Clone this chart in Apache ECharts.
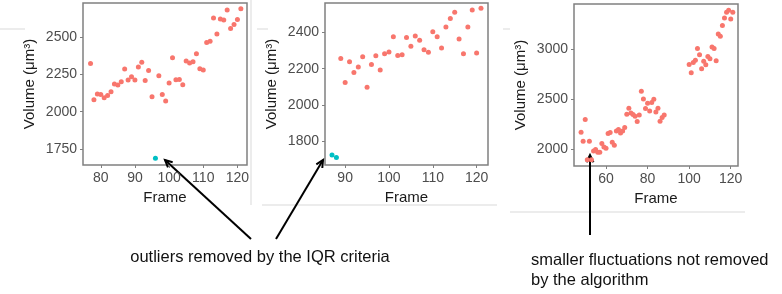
<!DOCTYPE html>
<html>
<head>
<meta charset="utf-8">
<script src="https://cdn.jsdelivr.net/npm/echarts@6/dist/echarts.min.js"></script>
<style>
html, body { margin: 0; padding: 0; background: #fff; }
#main { width: 782px; height: 294px; }
</style>
</head>
<body>
<div id="main"></div>
<script>
// 第一幅图 数据
var frames1 = [77, 78, 79, 80, 81, 82, 83, 84, 85, 86, 87, 88, 89, 90, 91, 92, 93, 94, 95,
	97, 98, 99, 100, 101, 102, 103, 104, 105, 106, 107, 108, 109, 110, 111, 112, 113, 114, 115, 116, 117, 118, 119, 120, 121];
var volume1 = [2323, 2080, 2118, 2116, 2093, 2109, 2133, 2185, 2178, 2200, 2286, 2212, 2234, 2212, 2299, 2332, 2209, 2276, 2100,
	2241, 2116, 2071, 2192, 2361, 2214, 2216, 2180, 2339, 2326, 2335, 2388, 2288, 2279, 2464, 2471, 2627, 2520, 2621, 2614, 2681, 2558, 2584, 2618, 2690];
var outFrames1 = [96];
var outVolume1 = [1689];

// 第二幅图 数据
var frames2 = [89, 90, 91, 92, 93, 94, 95, 96, 97, 98, 99, 100, 101, 102, 103, 104, 105, 106, 107, 108, 109, 110,
	111, 112, 113, 114, 115, 116, 117, 118, 119, 120, 121];
var volume2 = [2256, 2124, 2238, 2179, 2209, 2266, 2098, 2223, 2271, 2192, 2282, 2292, 2376, 2273, 2277, 2372, 2323, 2380, 2356, 2304, 2290, 2404,
	2376, 2314, 2430, 2476, 2511, 2363, 2282, 2430, 2524, 2286, 2533];
var outFrames2 = [87, 88];
var outVolume2 = [1724, 1711];

// 第三幅图 数据
var frames3 = [48, 49, 50, 51, 52, 53, 54, 55, 56, 57, 58, 59, 60, 61, 62, 63, 64, 65, 66, 67, 68, 69, 70, 71, 72, 73, 74, 75, 76, 77, 78, 79, 80, 81, 82, 83, 84, 85, 86, 87, 88,
	100, 101, 102, 103, 104, 105, 106, 107, 108, 109, 110, 111, 112, 113, 114, 115, 116, 117, 118, 119, 120, 121];
var volume3 = [2168, 2077, 2296, 1893, 2077, 1893, 1980, 1994, 1967, 1967, 2054, 2020, 2007, 2155, 2165, 2067, 2037, 2181, 2195, 2161, 2181, 2215, 2349, 2409, 2362, 2346, 2329, 2276, 2342, 2580, 2503, 2406, 2460, 2382, 2467, 2500, 2372, 2409, 2279, 2316, 2342,
	2849, 2765, 2869, 2892, 3010, 2946, 2805, 2882, 2845, 2929, 2906, 3023, 3010, 2885, 3154, 3131, 3241, 3315, 3372, 3392, 3305, 3372];

// 刻度
var xTicks1 = [80, 90, 100, 110, 120];
var yTicks1 = [1750, 2000, 2250, 2500];
var xTicks2 = [90, 100, 110, 120];
var yTicks2 = [1800, 2000, 2200, 2400];
var xTicks3 = [60, 80, 100, 120];
var yTicks3 = [2000, 2500, 3000];

// 文字
var note1 = 'outliers removed by the IQR criteria';
var note2 = 'smaller fluctuations not removed\nby the algorithm';

var FONT = 'Liberation Sans, Arial, sans-serif';
var RED = '#F8766D';
var CYAN = '#00BFC4';

function zip(xs, ys) {
	return xs.map(function(x, i) {
		return [x, ys[i]];
	});
}

//坐标轴配置
function makeX(idx, min, max, ticks) {
	return {
		gridIndex: idx,
		type: 'value',
		min: min,
		max: max,
		name: 'Frame',
		nameLocation: 'middle',
		nameGap: 25,
		nameTextStyle: { fontSize: 15, color: '#1a1a1a', fontFamily: FONT },
		axisLine: { show: false },
		splitLine: { show: false },
		axisTick: { show: true, length: 3, customValues: ticks, lineStyle: { color: '#808080' } },
		axisLabel: {
			customValues: ticks, margin: 6, fontSize: 14, color: '#4d4d4d', fontFamily: FONT,
			formatter: function(v) { return String(v); }
		}
	};
}
function makeY(idx, min, max, ticks) {
	return {
		gridIndex: idx,
		type: 'value',
		min: min,
		max: max,
		name: 'Volume (\u03bcm\u00b3)',
		nameLocation: 'middle',
		nameRotate: 90,
		nameGap: 46,
		nameTextStyle: { fontSize: 15, color: '#1a1a1a', fontFamily: FONT },
		axisLine: { show: false },
		splitLine: { show: false },
		axisTick: { show: true, length: 3, customValues: ticks, lineStyle: { color: '#808080' } },
		axisLabel: {
			customValues: ticks, margin: 6, fontSize: 14, color: '#4d4d4d', fontFamily: FONT,
			formatter: function(v) { return String(v); }
		}
	};
}
function makeScatter(idx, data, color) {
	return {
		type: 'scatter',
		xAxisIndex: idx,
		yAxisIndex: idx,
		symbolSize: 5,
		itemStyle: { color: color, opacity: 1 },
		data: data
	};
}

//箭头
function arrow(x1, y1, x2, y2) {
	var ang = Math.atan2(y2 - y1, x2 - x1);
	var L = 8, w = 0.45;
	return [{
		type: 'line',
		shape: { x1: x1, y1: y1, x2: x2, y2: y2 },
		style: { stroke: '#000', lineWidth: 2 }
	}, {
		type: 'polyline',
		shape: { points: [
			[x2 - L * Math.cos(ang - w), y2 - L * Math.sin(ang - w)],
			[x2, y2],
			[x2 - L * Math.cos(ang + w), y2 - L * Math.sin(ang + w)]
		] },
		style: { stroke: '#000', lineWidth: 2, fill: null }
	}];
}
function faint(x1, y1, x2, y2) {
	return {
		type: 'line',
		shape: { x1: x1, y1: y1, x2: x2, y2: y2 },
		style: { stroke: '#e6e6e6', lineWidth: 1.5 },
		z: -1
	};
}

var myChart = echarts.init(document.getElementById('main'));

var gridBox = { show: true, borderColor: '#808080', borderWidth: 1.5, backgroundColor: '#fff' };

var graphics = []
	.concat(arrow(251, 239, 165, 160))
	.concat(arrow(276, 239, 323, 160))
	.concat(arrow(590, 235, 590, 155))
	.concat([
		faint(0, 29, 25, 29),
		faint(251, 0, 251, 205),
		faint(257, 29, 268, 29),
		faint(262, 205, 497, 205),
		faint(503, 29, 510, 29),
		faint(510, 212, 745, 212),
		{
			type: 'text',
			x: 260,
			y: 257,
			style: { text: note1, fontSize: 16.5, fontFamily: FONT, fill: '#111', align: 'center', verticalAlign: 'middle' }
		},
		{
			type: 'text',
			x: 531,
			y: 250,
			style: { text: note2, fontSize: 16.5, lineHeight: 20, fontFamily: FONT, fill: '#111', align: 'left', verticalAlign: 'top' }
		}
	]);

var option = {
	animation: false,
	backgroundColor: '#fff',
	grid: [
		echarts.util.extend({ left: 83, top: 3, width: 164, height: 162 }, gridBox),
		echarts.util.extend({ left: 325, top: 3, width: 163, height: 162 }, gridBox),
		echarts.util.extend({ left: 574, top: 4, width: 164, height: 162 }, gridBox)
	],
	xAxis: [
		makeX(0, 74.8, 122.8, xTicks1),
		makeX(1, 85.4, 122.6, xTicks2),
		makeX(2, 44.6, 123.5, xTicks3)
	],
	yAxis: [
		makeY(0, 1643, 2728, yTicks1),
		makeY(1, 1669, 2562, yTicks2),
		makeY(2, 1829, 3456, yTicks3)
	],
	series: [
		makeScatter(0, zip(frames1, volume1), RED),
		makeScatter(0, zip(outFrames1, outVolume1), CYAN),
		makeScatter(1, zip(frames2, volume2), RED),
		makeScatter(1, zip(outFrames2, outVolume2), CYAN),
		makeScatter(2, zip(frames3, volume3), RED)
	],
	graphic: graphics
};
myChart.setOption(option);
</script>
</body>
</html>
